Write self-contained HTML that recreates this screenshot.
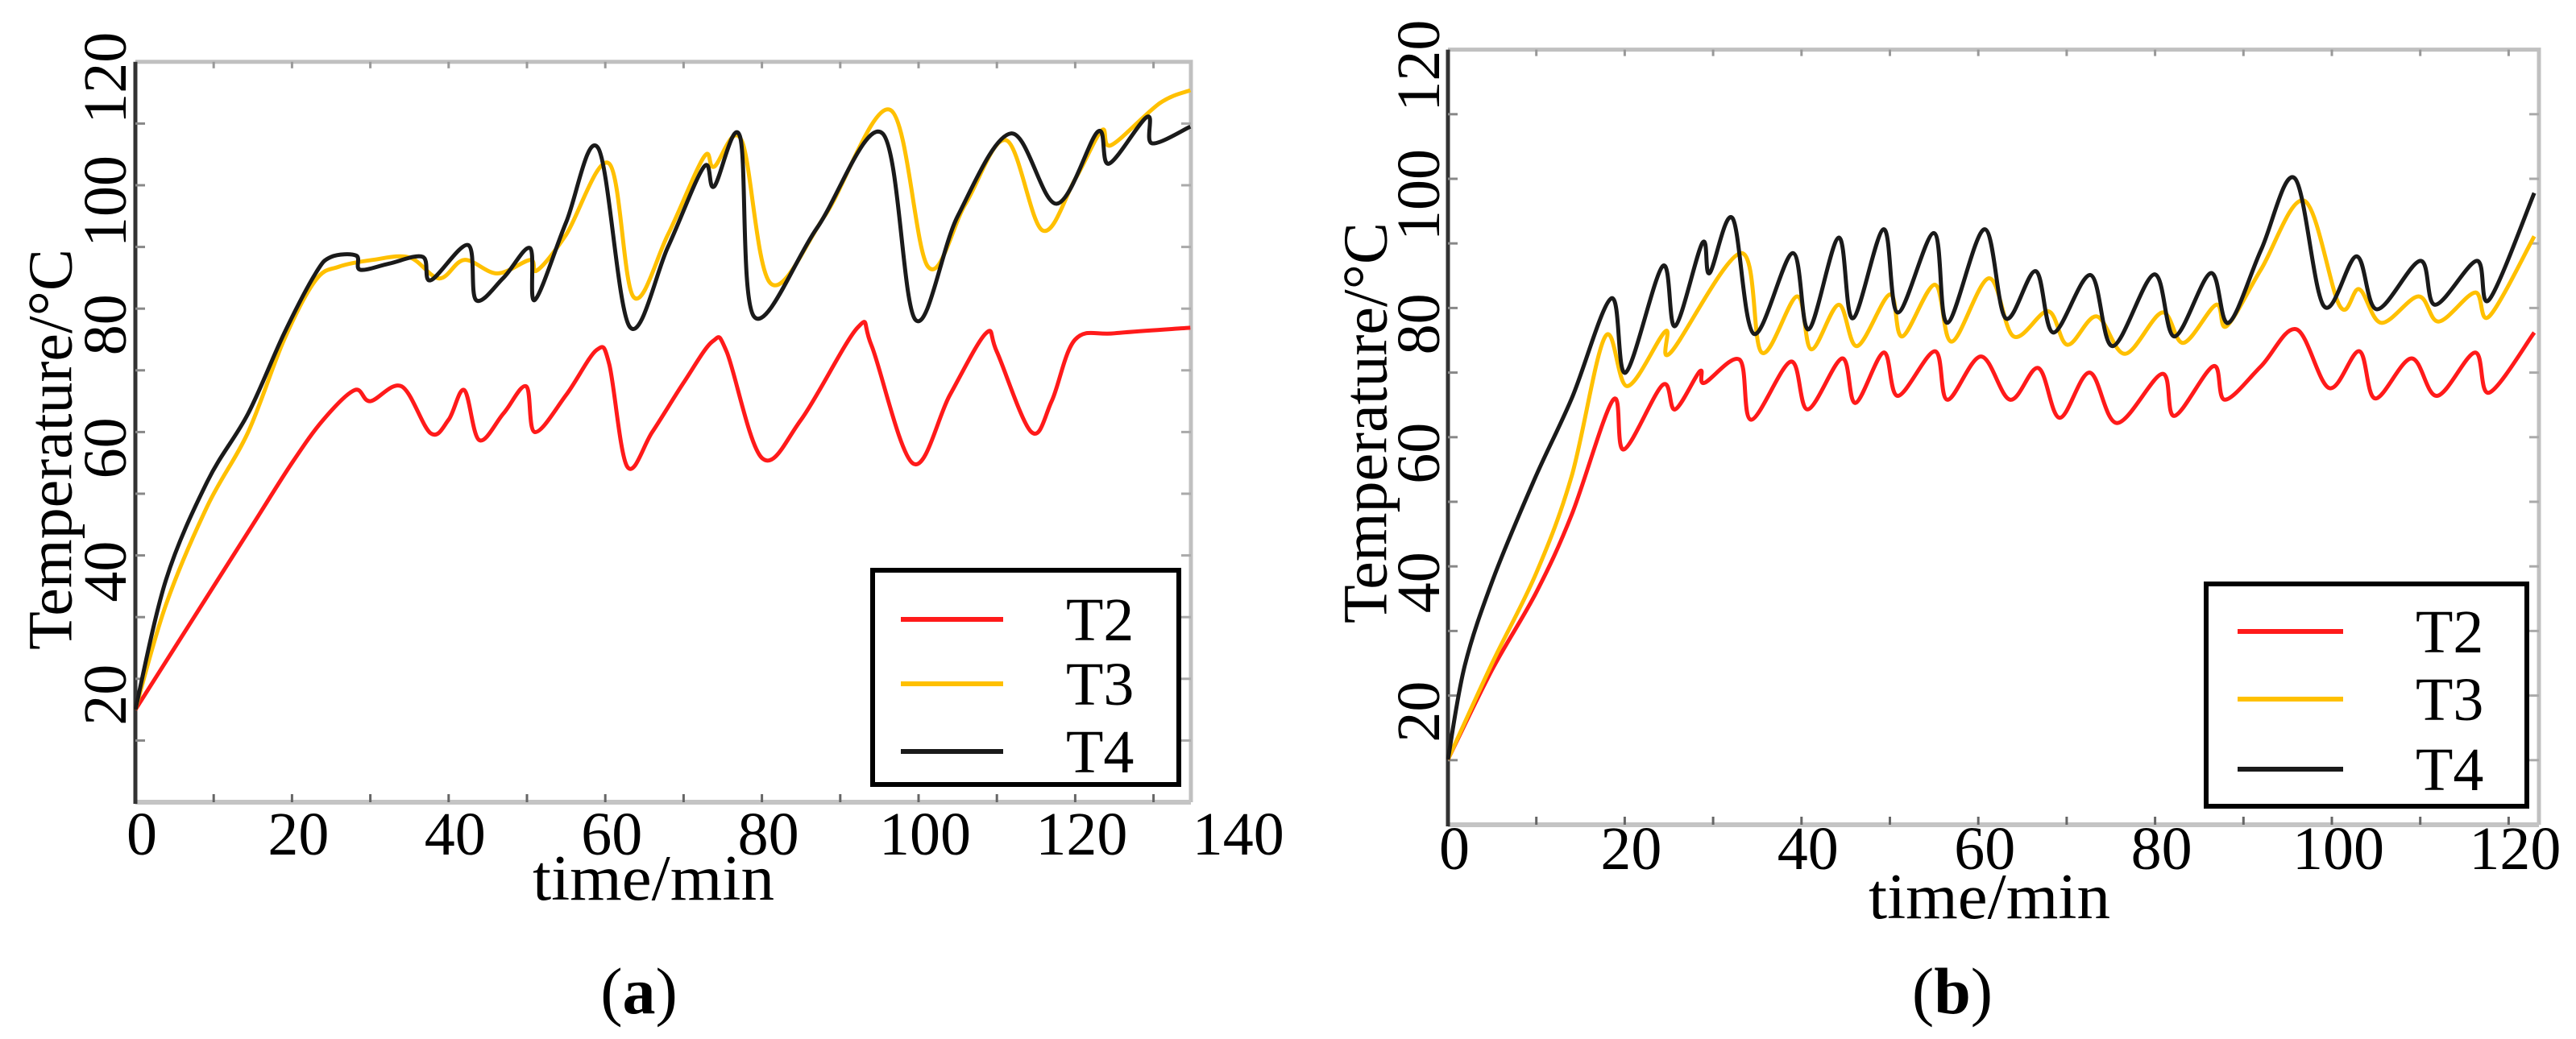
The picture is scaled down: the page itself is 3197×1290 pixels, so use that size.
<!DOCTYPE html>
<html><head><meta charset="utf-8">
<style>
html,body{margin:0;padding:0;background:#fff;}
svg{display:block;font-family:"Liberation Serif","DejaVu Serif",serif;}
text{font-family:"Liberation Serif","DejaVu Serif",serif;fill:#000;}
</style></head>
<body>
<svg id="fig" width="3197" height="1290" viewBox="0 0 3197 1290" font-family="Liberation Serif, serif" xmlns="http://www.w3.org/2000/svg">
<rect x="0" y="0" width="3197" height="1290" fill="#fff"/>
</svg>
<script>
// ---- data: chart (a) ----
const aT2x=[0,5,10,15,20,24,28,30,34,37.7,40,42,43.9,47,49.9,51,55,58.9,60.5,62.8,66,70,73.7,75.5,80,85,92.2,94,99.3,104,108.6,110,114.4,117,120,125,134.7];
const aT2y=[15,25,35,45,55,62,66.8,65,67.4,59.8,62,66.8,58.7,63,67.4,60,66,73.3,71,54.4,60,68,74.7,73,55.8,62,76.9,74,54.9,66,76,73,60,65,75,76,76.9];
const aT3x=[0,3.9,9.2,14.4,19,23,26,30.3,35,38.8,42,46.2,50.4,51.3,55,60.5,63.6,68,72.6,73.9,77.4,81.1,88,96.4,101.2,106,111.2,115.8,120,123.4,124.6,130.8,134.7];
const aT3y=[15,32,48,60,75,84.6,86.8,87.9,88.3,84.9,87.9,85.7,87.9,86.2,92,103.5,81.9,92,104.6,103,107.3,84.1,95,112.2,86.8,97,107.3,92.7,101,108.9,106.5,113.3,115.4];
const aT4x=[0,3.9,9.2,14.4,19,23,25,28.2,28.7,32.4,36.7,37.7,42.5,43.5,47,50.4,51,55,59.1,63.1,68,72.6,73.9,77.2,79,87,95.4,99.6,105,111.8,117.6,122.9,124.3,129.2,129.8,134.7];
const aT4y=[15,36,52,63,76,85.7,88.4,88.6,86.3,87.3,88.4,84.6,90.3,81.4,85,89.8,81.4,94,106,77.1,90,103,99.8,107.9,78.7,93,108.4,78.2,95,108.4,97,108.7,103.5,111.1,106.8,109.5];
// ---- data: chart (b) ----
const bT2x=[0,5,10,14,18.7,19.9,24.3,25.7,28.5,29,33,34.3,38.8,40.7,44.6,46.1,49.3,50.9,55.1,56.5,60.3,63.6,66.8,69.2,72.6,75.7,80.8,82.2,86.6,87.9,92,96,99.7,103.1,104.9,109,111.9,116.2,117.8,122.9];
const bT2y=[10.1,24,36,48,65.8,58.1,68.1,64.3,70.2,68.4,72,62.7,71.7,64.3,72.2,65.3,73.1,66.4,73.3,65.8,72.5,65.8,70.7,63,70,62.2,69.8,63.3,71,65.8,71,76.7,67.6,73.3,66,72.2,66.4,73.1,66.9,76.2];
const bT3x=[0,5,10,14,17.8,20.3,24.6,25.2,33.2,35.5,39.5,41.1,44.2,46.3,50,51.4,55.1,57,61.2,64,67.9,70.1,73.4,76.6,80.8,83.2,86.9,88.1,92,96.9,100.9,103.1,105.6,109.8,112.1,116.2,117.8,122.9];
const bT3y=[10.1,25,39,54,75.6,67.9,76.4,73.1,88.5,73.1,81.8,73.6,80.5,74.1,82.1,75.6,83.6,74.8,84.6,75.6,79.5,74.3,78.7,72.9,79.3,74.6,80.5,77.2,86,96.6,80.3,82.9,77.7,81.8,77.9,82.4,78.7,91.1];
const bT4x=[0,1.9,5.1,9.8,14,18.5,20.1,24.3,25.7,28.8,29.6,32.2,34.6,39,40.8,44.2,45.8,49.3,50.9,55,56.5,60.7,63.1,66.5,68.5,72.7,75.2,79.9,82.2,86.3,88.3,92,95.8,99.1,102.8,105.1,110,111.7,116.4,117.8,122.9];
const bT4y=[10.1,24.6,38,53.5,66,81.5,70,86.5,77.2,90.1,85.4,93.9,76,88.5,76.7,90.9,78.4,92.2,79.3,91.6,77.7,92.2,78.4,85.7,76.2,85.1,74.1,85.2,75.6,85.4,77.7,89,100.1,80.3,88,79.8,87.3,80.5,87.3,81.3,97.8];
const xTicksA=[0,20,40,60,80,100,120,140];
const xTicksB=[0,20,40,60,80,100,120];
const yTicks=[20,40,60,80,100,120];
const seriesNames=["T2","T3","T4"];
const seriesColors=["#ff1a1a","#ffc000","#1a1a1a"];

const NS="http://www.w3.org/2000/svg";
const FONT='"Liberation Serif", "DejaVu Serif", serif';
const svg=document.getElementById('fig');
function el(tag,attrs,parent){const e=document.createElementNS(NS,tag);for(const k in attrs)e.setAttribute(k,attrs[k]);if(tag==='text')e.setAttribute('font-family',FONT);(parent||svg).appendChild(e);return e;}
function smooth(pts){
  let d="M"+pts[0][0].toFixed(1)+","+pts[0][1].toFixed(1);
  for(let i=0;i<pts.length-1;i++){
    const p0=pts[Math.max(0,i-1)],p1=pts[i],p2=pts[i+1],p3=pts[Math.min(pts.length-1,i+2)];
    const c1x=p1[0]+(p2[0]-p0[0])/6,c1y=p1[1]+(p2[1]-p0[1])/6;
    const c2x=p2[0]-(p3[0]-p1[0])/6,c2y=p2[1]-(p3[1]-p1[1])/6;
    d+=" C"+c1x.toFixed(1)+","+c1y.toFixed(1)+" "+c2x.toFixed(1)+","+c2y.toFixed(1)+" "+p2[0].toFixed(1)+","+p2[1].toFixed(1);
  }
  return d;
}
function chart(cfg){
  const g=el('g',{});
  
  
  const X=v=>cfg.x0+(v-0)*cfg.px;
  const Y=v=>cfg.yb-(v-0)*cfg.py;
  const L=X(0),R=cfg.right,T=Y(120),B=cfg.yb;
  const fr=el('path',{d:`M${L},${T} H${R} V${B}`,fill:'none',stroke:'#c0c0c0','stroke-width':5},g);
  
  
  const xb=el('line',{x1:L,y1:B,x2:R,y2:B,stroke:'#c4c4c4','stroke-width':6},g);
  
  
  const yb=el('line',{x1:L,y1:T,x2:L,y2:B+2,stroke:'#333','stroke-width':5},g);
  
  
  for(let v=10;X(v)<R-3;v+=10){
    el('line',{x1:X(v),y1:B,x2:X(v),y2:B-10,stroke:'#666','stroke-width':3},g);
    el('line',{x1:X(v),y1:T,x2:X(v),y2:T+8,stroke:'#999','stroke-width':3},g);
  }
  for(let v=10;v<120;v+=10){
    el('line',{x1:L,y1:Y(v),x2:L+12,y2:Y(v),stroke:'#888','stroke-width':3},g);
    el('line',{x1:R,y1:Y(v),x2:R-12,y2:Y(v),stroke:'#aaa','stroke-width':3},g);
  }
  cfg.xt.forEach(v=>{
    const t=el('text',{x:X(v)+8,y:cfg.xlabY,'text-anchor':'middle','font-size':76},g);
    t.textContent=v;
    
    
  });
  yTicks.forEach(v=>{
    const cy=Y(v)+20;
    const t=el('text',{x:cfg.ylabX,y:cy,'text-anchor':'middle','dominant-baseline':'central','font-size':76,transform:`rotate(-90 ${cfg.ylabX} ${cy})`},g);
    t.textContent=v;
    
    
  });
  const xt=el('text',{x:cfg.xTitleX,y:cfg.xTitleY,'text-anchor':'middle','font-size':80,textLength:300,lengthAdjust:'spacingAndGlyphs'},g);
  xt.textContent='time/min';
  
  
  const yt=el('text',{x:cfg.yTitleX,y:cfg.yTitleY,'text-anchor':'middle','dominant-baseline':'central','font-size':78,transform:`rotate(-90 ${cfg.yTitleX} ${cfg.yTitleY})`},g);
  yt.textContent='Temperature/°C';
  
  
  cfg.series.forEach((s,i)=>{
    const pts=s[0].map((xv,k)=>[X(xv),Y(s[1][k])]);
    const p=el('path',{d:smooth(pts),fill:'none',stroke:seriesColors[i],'stroke-width':5,'stroke-linejoin':'round'},g);
    
    
  });
  const lg=el('g',{},g);
  
  
  el('rect',{x:cfg.leg[0],y:cfg.leg[1],width:cfg.leg[2],height:cfg.leg[3],fill:'#fff',stroke:'#000','stroke-width':6},lg);
  seriesNames.forEach((n,i)=>{
    const ly=cfg.legY[i];
    const e=el('g',{},lg);
    
    
    el('line',{x1:cfg.legLine[0],y1:ly,x2:cfg.legLine[1],y2:ly,stroke:seriesColors[i],'stroke-width':6},e);
    const t=el('text',{x:cfg.legText,y:ly+26,'font-size':76},e);
    t.textContent=n;
  });
  const cap=el('text',{x:cfg.capX,y:cfg.capY,'text-anchor':'middle','font-size':82},g);
  cap.innerHTML='(<tspan font-weight="bold">'+cfg.cap+'</tspan>)';
  
  
}
chart({name:'chart-a',x0:168,px:9.72,yb:996,py:7.66,right:1478,xt:xTicksA,xlabY:1061,ylabX:131,
  xTitleX:811,xTitleY:1117,yTitleX:62,yTitleY:558,
  series:[[aT2x,aT2y],[aT3x,aT3y],[aT4x,aT4y]],
  leg:[1083,708,380,266],legY:[769,849,933],legLine:[1118,1245],legText:1323,cap:'a',capX:793,capY:1258});
chart({name:'chart-b',x0:1797,px:10.97,yb:1024,py:8.02,right:3151,xt:xTicksB,xlabY:1079,ylabX:1761,
  xTitleX:2469,xTitleY:1140,yTitleX:1694,yTitleY:525,
  series:[[bT2x,bT2y],[bT3x,bT3y],[bT4x,bT4y]],
  leg:[2738,725,398,276],legY:[784,868,955],legLine:[2777,2908],legText:2998,cap:'b',capX:2423,capY:1258});
</script>
</body></html>
